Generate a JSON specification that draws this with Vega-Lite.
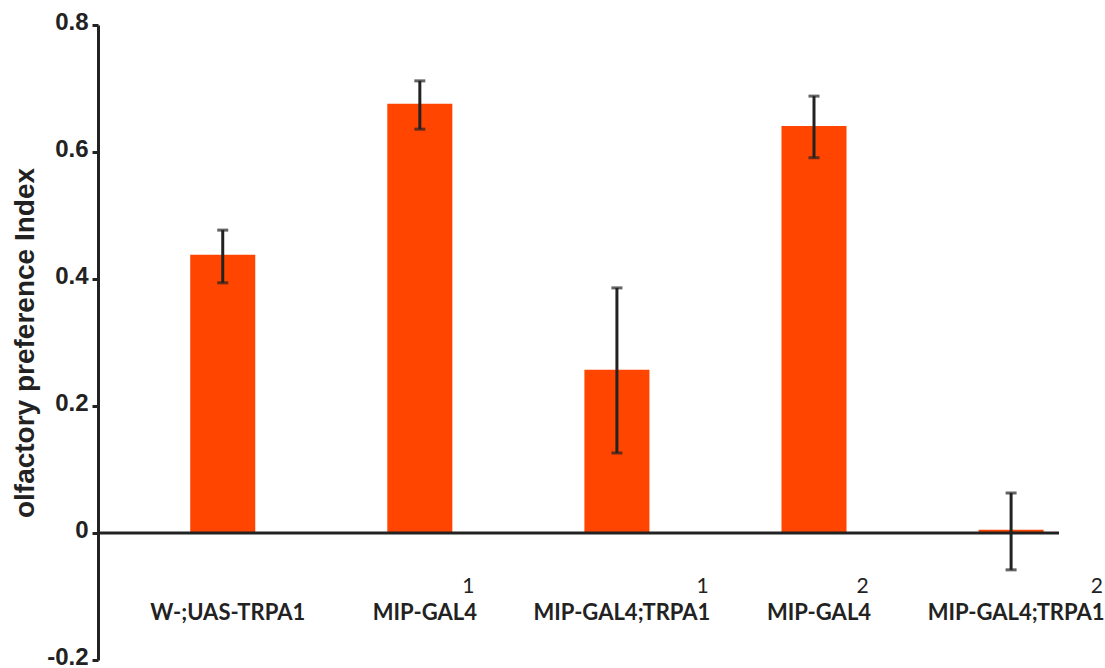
{
  "$schema": "https://vega.github.io/schema/vega-lite/v6.json",
  "autosize": {"type": "none"},
  "padding": {"left": 98, "top": 25, "right": 46, "bottom": 8},
  "width": 961,
  "height": 635,
  "background": "white",
  "config": {"view": {"stroke": null}},
  "data": {
    "values": [
      {"group": "g1", "label": "W-;UAS-TRPA1", "sup": "", "value": 0.438, "lo": 0.394, "hi": 0.477},
      {"group": "g2", "label": "MIP-GAL4", "sup": "1", "value": 0.676, "lo": 0.636, "hi": 0.712},
      {"group": "g3", "label": "MIP-GAL4;TRPA1", "sup": "1", "value": 0.257, "lo": 0.126, "hi": 0.386},
      {"group": "g4", "label": "MIP-GAL4", "sup": "2", "value": 0.641, "lo": 0.591, "hi": 0.688},
      {"group": "g5", "label": "MIP-GAL4;TRPA1", "sup": "2", "value": 0.005, "lo": -0.058, "hi": 0.063}
    ]
  },
  "encoding": {
    "x": {
      "field": "group",
      "type": "nominal",
      "sort": null,
      "axis": null,
      "scale": {"paddingInner": 0.67, "paddingOuter": 0.273, "align": 0.857}
    }
  },
  "layer": [
    {
      "mark": {"type": "bar", "color": "#FF4500"},
      "encoding": {
        "y": {
          "field": "value",
          "type": "quantitative",
          "scale": {"domain": [-0.2, 0.8], "nice": false, "zero": false},
          "axis": {
            "values": [-0.2, 0, 0.2, 0.4, 0.6, 0.8],
            "labelExpr": "datum.value == 0 ? '0' : replace(format(datum.value, '.1f'), '\u2212', '-')",
            "grid": false,
            "domainColor": "#222222",
            "domainWidth": 3,
            "tickColor": "#222222",
            "tickWidth": 3,
            "tickSize": 6,
            "labelFont": "Liberation Sans",
            "labelFontWeight": "bold",
            "labelFontSize": 24,
            "labelColor": "#222222",
            "labelPadding": 4,
            "labelOffset": -3,
            "labelBound": false,
            "title": "olfactory preference Index",
            "titleFont": "Liberation Sans",
            "titleFontWeight": "bold",
            "titleFontSize": 28,
            "titleColor": "#222222",
            "titleX": -73,
            "titleBaseline": "middle"
          }
        },
        "y2": {"datum": 0}
      }
    },
    {
      "data": {"values": [{"z": 0}]},
      "mark": {"type": "rule", "color": "#222222", "strokeWidth": 3},
      "encoding": {"y": {"field": "z", "type": "quantitative"}, "x": null}
    },
    {
      "mark": {"type": "rule", "color": "#222222", "strokeWidth": 3},
      "encoding": {
        "y": {"field": "lo", "type": "quantitative"},
        "y2": {"field": "hi"}
      }
    },
    {
      "mark": {"type": "tick", "color": "#222222", "orient": "horizontal", "size": 11, "thickness": 3},
      "encoding": {"y": {"field": "lo", "type": "quantitative"}}
    },
    {
      "mark": {"type": "tick", "color": "#222222", "orient": "horizontal", "size": 11, "thickness": 3},
      "encoding": {"y": {"field": "hi", "type": "quantitative"}}
    },
    {
      "mark": {"type": "text", "font": "Lato", "fontWeight": "bold", "fontSize": 22, "color": "#222222", "align": "center", "baseline": "alphabetic", "dx": 5},
      "encoding": {"y": {"datum": -0.137}, "text": {"field": "label"}}
    },
    {
      "mark": {"type": "text", "font": "Lato", "fontWeight": "normal", "fontSize": 21, "color": "#222222", "align": "right", "baseline": "alphabetic", "dx": {"expr": "5 + length(datum.label) * 6.2"}},
      "encoding": {"y": {"datum": -0.094}, "text": {"field": "sup"}}
    }
  ]
}
